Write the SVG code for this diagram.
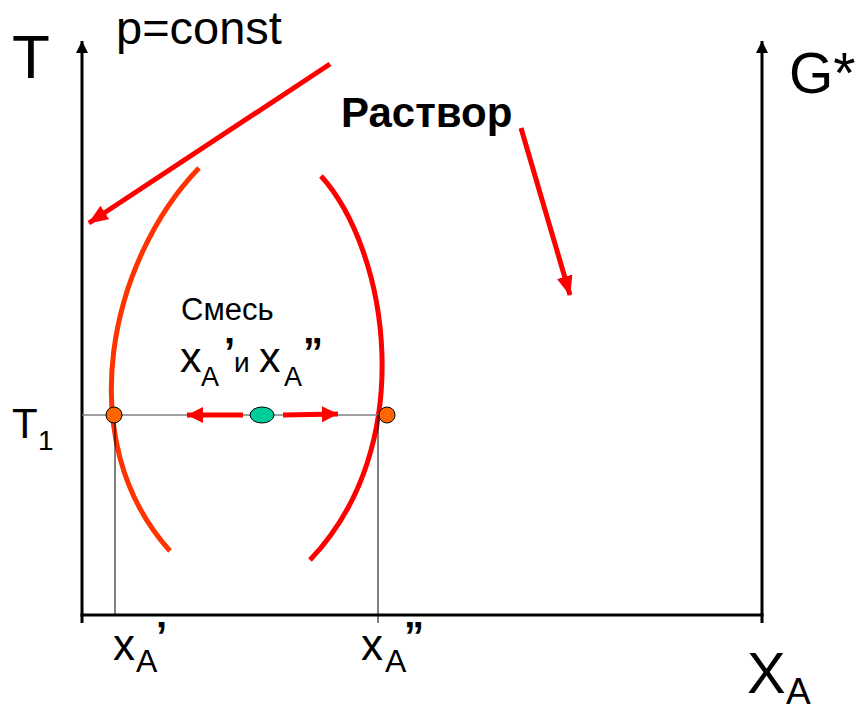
<svg xmlns="http://www.w3.org/2000/svg" width="858" height="709" viewBox="0 0 858 709">
<style>
text{font-family:"Liberation Sans",Arial,sans-serif;fill:#000}
.axis{stroke:#000;stroke-width:3;fill:none}
.thin{stroke:#000;stroke-width:1;fill:none}
.red{stroke:#FF0000;stroke-width:5;fill:none}
.curveL{stroke:#FF3300;stroke-width:5;fill:none}
.curveR{stroke:#FF0000;stroke-width:5;fill:none}
.dot{fill:#FF6600;stroke:#000;stroke-width:1}
</style>
<defs>
<marker id="ax" markerUnits="userSpaceOnUse" markerWidth="12" markerHeight="14" refX="12" refY="6" orient="auto">
<path d="M0,0 L12,6 L0,12 Z" fill="#000"/>
</marker>
<marker id="rh" markerUnits="userSpaceOnUse" markerWidth="20" markerHeight="18" refX="19" refY="8" orient="auto">
<path d="M0,0 L20,8 L0,16 Z" fill="#FF0000"/>
</marker>
<marker id="rs" markerUnits="userSpaceOnUse" markerWidth="17" markerHeight="17" refX="16" refY="8" orient="auto">
<path d="M0,0 L16,8 L0,16 Z" fill="#FF0000"/>
</marker>
</defs>
<rect width="858" height="709" fill="#fff"/>
<g id="axes">
<line class="axis" x1="82" y1="623" x2="82" y2="41" marker-end="url(#ax)"/>
<line class="axis" x1="762" y1="623" x2="762" y2="41" marker-end="url(#ax)"/>
<line class="axis" x1="80.5" y1="615" x2="763.5" y2="615"/>
</g>
<g id="curves">
<path class="curveL" d="M199,168 C110,260 70,440 170,551"/>
<path class="curveR" d="M321,176 C388,250 420,445 310,560"/>
</g>
<g id="connectors">
<line x1="82" y1="415" x2="386" y2="415" stroke="#808080" stroke-width="1.5"/>
<line class="thin" x1="115" y1="415" x2="115" y2="615"/>
<line class="thin" x1="378" y1="415" x2="378" y2="623"/>
<line class="red" x1="330" y1="64" x2="89" y2="223" marker-end="url(#rh)"/>
<line class="red" x1="521" y1="128" x2="570" y2="295" marker-end="url(#rh)"/>
<line class="red" x1="243" y1="415" x2="187" y2="415" marker-end="url(#rs)"/>
<line class="red" x1="283" y1="415" x2="338" y2="414" marker-end="url(#rs)"/>
</g>
<g id="points">
<circle class="dot" cx="114" cy="415" r="8"/>
<circle class="dot" cx="387" cy="415" r="8"/>
<ellipse cx="262" cy="415" rx="12" ry="8" fill="#00CC99" stroke="#000" stroke-width="1"/>
</g>
<g id="labels">
<text x="12" y="78" font-size="62">T</text>
<text x="116" y="44" font-size="47">p=const</text>
<text x="789" y="93" font-size="57">G*</text>
<text x="747" y="693" font-size="58">X</text>
<text x="786" y="704" font-size="37">A</text>
<text x="341" y="127" font-size="42" font-weight="bold">Раствор</text>
<text x="181" y="320" font-size="31">Смесь</text>
<text x="180" y="372" font-size="43">x</text>
<text x="201" y="386" font-size="27">A</text>
<text x="224" y="366" font-size="40" font-weight="bold">’</text>
<text x="234" y="372" font-size="28">и</text>
<text x="259" y="372" font-size="43">x</text>
<text x="284" y="386" font-size="27">A</text>
<text x="303" y="366" font-size="40" font-weight="bold">”</text>
<text x="12" y="438" font-size="42">T</text>
<text x="38" y="450" font-size="28">1</text>
<text x="113" y="660" font-size="44">x</text>
<text x="136" y="672" font-size="32">A</text>
<text x="156" y="650" font-size="40" font-weight="bold">’</text>
<text x="361" y="660" font-size="44">x</text>
<text x="385" y="672" font-size="32">A</text>
<text x="404" y="650" font-size="40" font-weight="bold">”</text>
</g>
</svg>
